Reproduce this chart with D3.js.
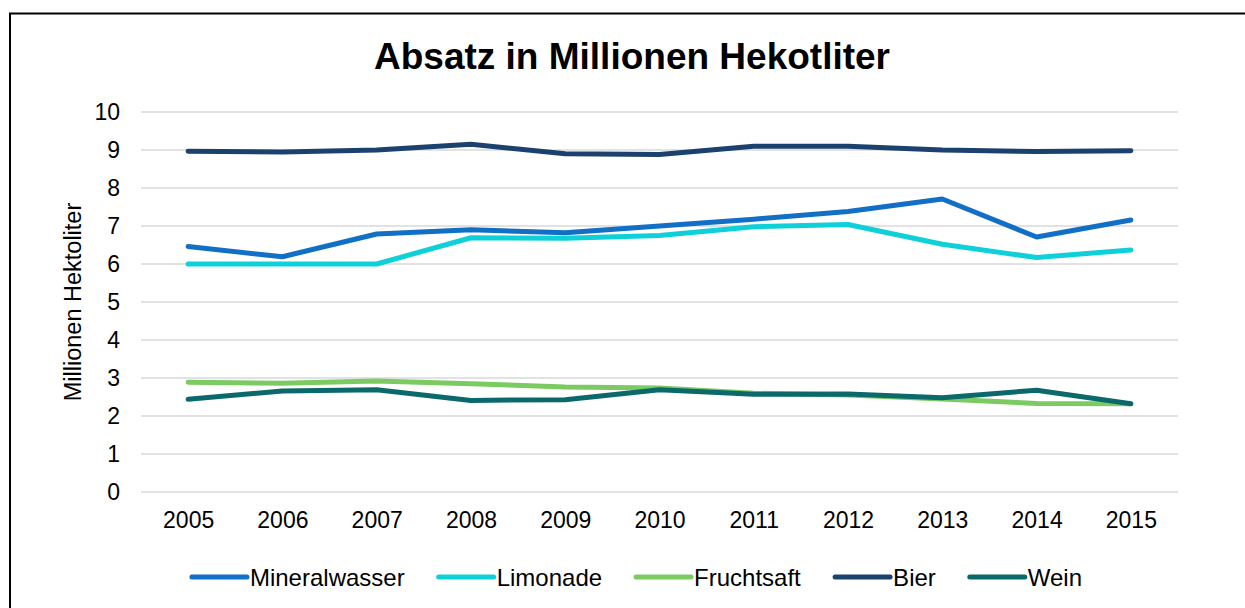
<!DOCTYPE html>
<html>
<head>
<meta charset="utf-8">
<script src="https://cdn.jsdelivr.net/npm/d3@7"></script>
<style>
  body { margin: 0; background: #fff; }
  svg { display: block; font-family: "Liberation Sans", Arial, sans-serif; }
</style>
</head>
<body>
<svg id="chart" width="1245" height="608"></svg>
<script>
// data
const years = ["2005", "2006", "2007", "2008", "2009", "2010", "2011", "2012", "2013", "2014", "2015"];
const mineralwasser = [6.46, 6.19, 6.79, 6.9, 6.82, 7.0, 7.18, 7.38, 7.71, 6.71, 7.16];
const limonade = [6.0, 6.0, 6.0, 6.69, 6.68, 6.75, 6.98, 7.04, 6.52, 6.17, 6.37];
const fruchtsaft = [2.89, 2.86, 2.92, 2.85, 2.76, 2.74, 2.6, 2.55, 2.45, 2.33, 2.32];
const bier = [8.97, 8.95, 9.0, 9.15, 8.9, 8.88, 9.1, 9.1, 9.0, 8.96, 8.98];
const wein = [2.44, 2.66, 2.69, 2.41, 2.43, 2.69, 2.57, 2.58, 2.48, 2.68, 2.32];
const yTicks = [0, 1, 2, 3, 4, 5, 6, 7, 8, 9, 10];

const series = [
    { name: "Mineralwasser", values: mineralwasser, color: "#1170C6" },
    { name: "Limonade", values: limonade, color: "#0ED0D9" },
    { name: "Fruchtsaft", values: fruchtsaft, color: "#7CCA62" },
    { name: "Bier", values: bier, color: "#1B416E" },
    { name: "Wein", values: wein, color: "#0B686B" }
];

const svg = d3.select("#chart");

// outer frame
svg.append("rect")
    .attr("x", 10)
    .attr("y", 13.5)
    .attr("width", 1400)
    .attr("height", 800)
    .attr("fill", "none")
    .attr("stroke", "#000")
    .attr("stroke-width", 2);

const plotLeft = 141, plotRight = 1178, plotTop = 112, plotBottom = 492;

const x = d3.scalePoint()
    .domain(years)
    .range([plotLeft, plotRight])
    .padding(0.5);

const y = d3.scaleLinear()
    .domain([0, 10])
    .range([plotBottom, plotTop]);

// gridlines
svg.append("g")
    .selectAll("line")
    .data(yTicks)
    .enter()
    .append("line")
    .attr("x1", plotLeft)
    .attr("x2", plotRight)
    .attr("y1", d => y(d))
    .attr("y2", d => y(d))
    .attr("stroke", "#D9D9D9")
    .attr("stroke-width", 1.5);

// y axis
const yAxis = svg.append("g")
    .attr("transform", `translate(${plotLeft},0)`)
    .call(d3.axisLeft(y).tickValues(yTicks).tickSize(0).tickPadding(21));
yAxis.select(".domain").remove();
yAxis.selectAll("text")
    .attr("font-size", 23)
    .attr("font-family", "Liberation Sans, Arial, sans-serif")
    .attr("fill", "#000");

// x axis
const xAxis = svg.append("g")
    .attr("transform", `translate(0,${plotBottom})`)
    .call(d3.axisBottom(x).tickSize(0).tickPadding(20));
xAxis.select(".domain").remove();
xAxis.selectAll("text")
    .attr("font-size", 23)
    .attr("font-family", "Liberation Sans, Arial, sans-serif")
    .attr("fill", "#000");

// title
svg.append("text")
    .attr("x", 632)
    .attr("y", 69)
    .attr("text-anchor", "middle")
    .attr("font-size", 37)
    .attr("font-weight", "bold")
    .text("Absatz in Millionen Hekotliter");

// y axis title
svg.append("text")
    .attr("transform", "translate(81,302) rotate(-90)")
    .attr("text-anchor", "middle")
    .attr("font-size", 23.5)
    .text("Millionen Hektoliter");

// lines
const line = d3.line()
    .x((d, i) => x(years[i]))
    .y(d => y(d));

svg.append("g")
    .selectAll("path")
    .data(series)
    .enter()
    .append("path")
    .attr("fill", "none")
    .attr("stroke", d => d.color)
    .attr("stroke-width", 5)
    .attr("stroke-linecap", "round")
    .attr("stroke-linejoin", "round")
    .attr("d", d => line(d.values));

// legend
const legend = svg.append("g");
const items = legend.selectAll("g")
    .data(series)
    .enter()
    .append("g");
items.append("line")
    .attr("x1", 0)
    .attr("x2", 55)
    .attr("y1", 0)
    .attr("y2", 0)
    .attr("stroke", d => d.color)
    .attr("stroke-width", 5)
    .attr("stroke-linecap", "round");
items.append("text")
    .attr("x", 58)
    .attr("y", 8.5)
    .attr("font-size", 24)
    .text(d => d.name);

const widths = [];
items.each(function() {
    widths.push(this.getBBox().width);
});
const gap = 34;
const total = d3.sum(widths) + gap * (widths.length - 1);
let pos = 637 - total / 2;
items.attr("transform", (d, i) => {
    const t = `translate(${pos},577)`;
    pos += widths[i] + gap;
    return t;
});
</script>
</body>
</html>
